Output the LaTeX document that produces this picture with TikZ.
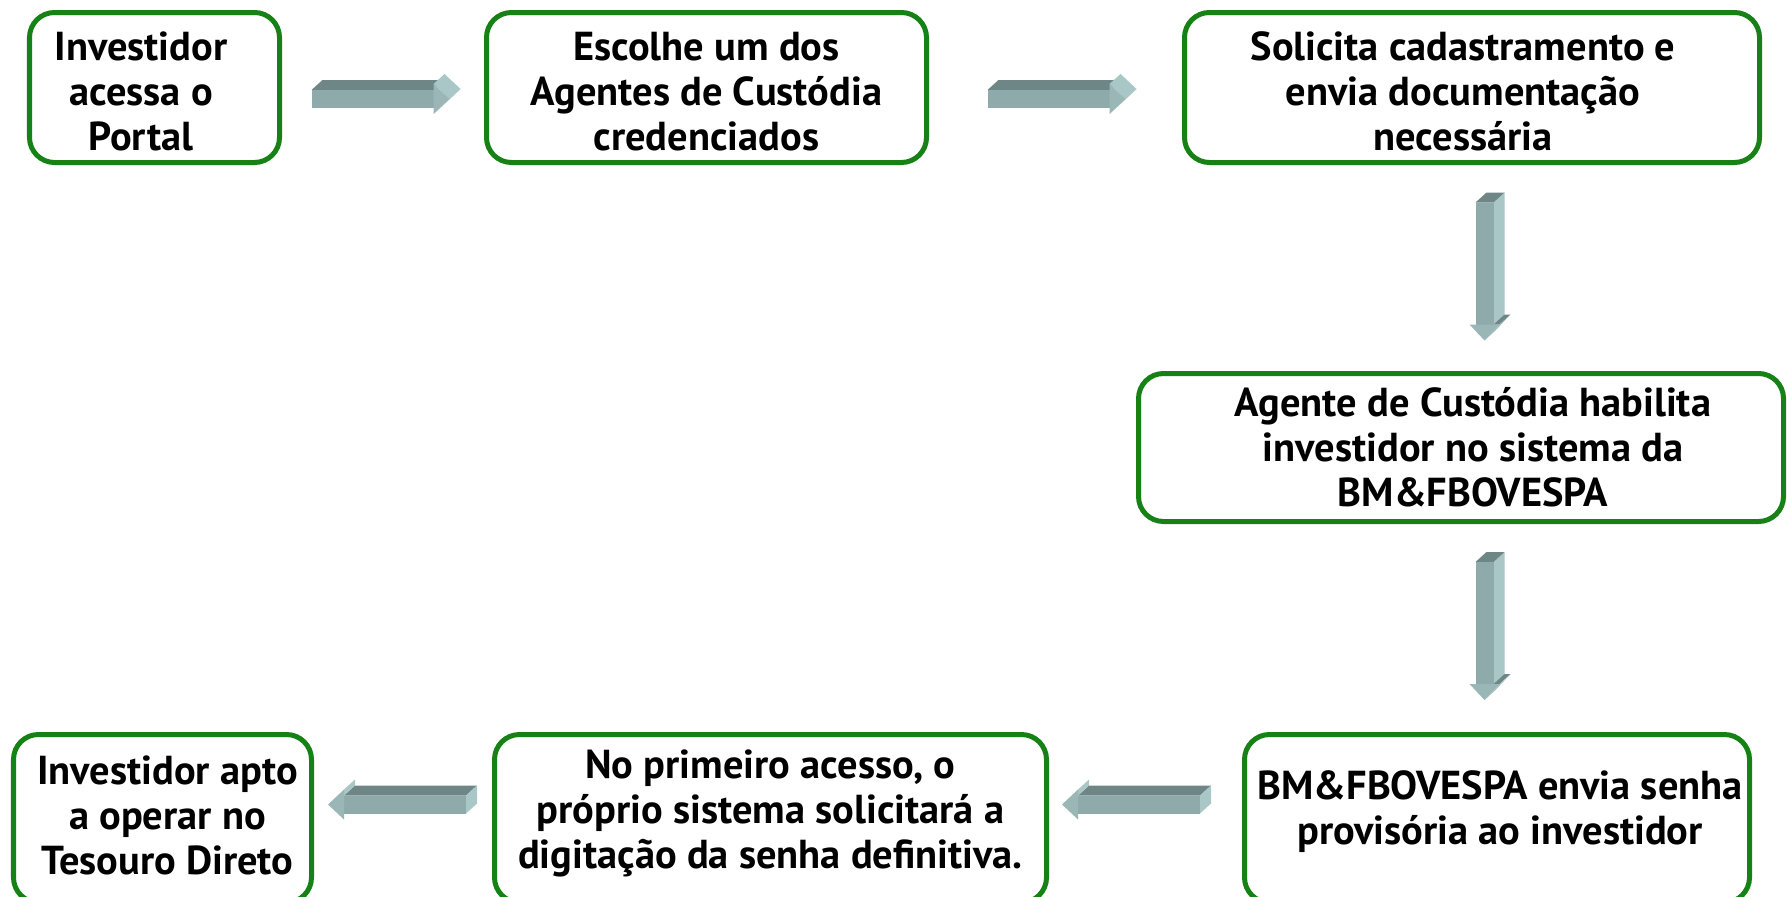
\documentclass[tikz,border=0pt]{standalone}
\usepackage{fontspec}
\setmainfont{PT Sans}
\usetikzlibrary{calc}
\definecolor{verde_caixa}{RGB}{22,130,22}
\definecolor{seta_escura}{HTML}{6E8686}
\definecolor{seta_media}{HTML}{8FAAAB}
\definecolor{seta_clara}{HTML}{A9C7C7}

\tikzset{
  caixa/.style={draw=verde_caixa, line width=0.1cm, rounded corners=0.5cm, fill=white, inner sep=0pt},
  texto/.style={font=\fontsize{23}{25.5}\selectfont\bfseries, align=center, inner sep=0pt},
  % seta 3D para a direita
  setadir/.pic={
    \fill[seta_escura] (-1.38,0.18) -- (1.06,0.18) -- (1.28,0.38) -- (-1.16,0.38) -- cycle;
    \fill[seta_clara] (1.06,0.30) -- (1.38,0) -- (1.60,0.20) -- (1.28,0.50) -- cycle;
    \fill[seta_clara!70!seta_media] (1.38,0) -- (1.06,-0.30) -- (1.28,-0.10) -- (1.60,0.20) -- cycle;
    \fill[seta_media] (-1.38,0.18) -- (1.06,0.18) -- (1.06,-0.18) -- (-1.38,-0.18) -- cycle;
    \fill[seta_media!60!seta_clara] (1.06,0.30) -- (1.38,0) -- (1.06,-0.30) -- cycle;
  },
  % seta 3D para baixo
  setabaixo/.pic={
    \fill[seta_clara] (0.18,1.38) -- (0.18,-1.06) -- (0.40,-0.86) -- (0.40,1.58) -- cycle;
    \fill[seta_escura] (-0.18,1.38) -- (0.18,1.38) -- (0.40,1.58) -- (0.04,1.58) -- cycle;
    \fill[seta_escura] (0.18,-1.06) -- (0.30,-1.06) -- (0.52,-0.86) -- (0.40,-0.86) -- cycle;
    \fill[seta_clara!70!seta_media] (0.30,-1.06) -- (0,-1.38) -- (0.22,-1.18) -- (0.52,-0.86) -- cycle;
    \fill[seta_media] (0.18,1.38) -- (0.18,-1.06) -- (-0.18,-1.06) -- (-0.18,1.38) -- cycle;
    \fill[seta_media!60!seta_clara] (0.30,-1.06) -- (0,-1.38) -- (-0.30,-1.06) -- cycle;
  },
  % seta 3D para a esquerda
  setaesq/.pic={
    \fill[seta_escura] (-1.06,0.18) -- (1.38,0.18) -- (1.60,0.38) -- (-0.84,0.38) -- cycle;
    \fill[seta_clara] (1.38,0.18) -- (1.38,-0.18) -- (1.60,0.02) -- (1.60,0.38) -- cycle;
    \fill[seta_clara] (-1.06,0.18) -- (-1.06,0.30) -- (-0.84,0.50) -- (-0.84,0.38) -- cycle;
    \fill[seta_media] (1.38,0.18) -- (-1.06,0.18) -- (-1.06,-0.18) -- (1.38,-0.18) -- cycle;
    \fill[seta_media!60!seta_clara] (-1.06,0.30) -- (-1.38,0) -- (-1.06,-0.30) -- cycle;
  }
}

\begin{document}
\begin{tikzpicture}

    \useasboundingbox (0,0) rectangle (35.74,-17.92);
    \clip (0,0) rectangle (35.74,-17.92);

    % Caixas do fluxo
    \node[caixa, minimum width=5cm, minimum height=3cm] (portal) at (3.09,-1.75) {};
    \node[caixa, minimum width=8.8cm, minimum height=3cm] (agentes) at (14.13,-1.75) {};
    \node[caixa, minimum width=11.5cm, minimum height=3cm] (solicita) at (29.44,-1.75) {};
    \node[caixa, minimum width=12.9cm, minimum height=2.96cm] (habilita) at (29.22,-8.95) {};
    \node[caixa, minimum width=10.1cm, minimum height=3.36cm] (senha) at (29.94,-16.37) {};
    \node[caixa, minimum width=11.04cm, minimum height=3.36cm] (primeiro) at (15.41,-16.37) {};
    \node[caixa, minimum width=5.96cm, minimum height=3.36cm] (apto) at (3.25,-16.37) {};

    % Textos das caixas
    \node[texto] (portal-t) at ([xshift=-0.27cm,yshift=-0.08cm]portal.center) {Investidor\\acessa o\\Portal};
    \node[texto] (agentes-t) at ([yshift=-0.08cm]agentes.center) {Escolhe um dos\\Agentes de Custódia\\credenciados};
    \node[texto] (solicita-t) at ([xshift=-0.18cm,yshift=-0.08cm]solicita.center) {Solicita cadastramento e\\envia documentação\\necessária};
    \node[texto] (habilita-t) at ([xshift=0.24cm]habilita.center) {Agente de Custódia habilita\\investidor no sistema da\\BM\&FBOVESPA};
    \node[texto] (senha-t) at ([xshift=0.06cm,yshift=0.14cm]senha.center) {BM\&FBOVESPA envia senha\\provisória ao investidor};
    \node[texto] (primeiro-t) at ([yshift=0.1cm]primeiro.center) {No primeiro acesso, o\\próprio sistema solicitará a\\digitação da senha definitiva.};
    \node[texto] (apto-t) at ([xshift=0.1cm,yshift=0.06cm]apto.center) {Investidor apto\\a operar no\\Tesouro Direto};

    % Setas entre as caixas
    \pic at ($(portal.east)!0.5!(agentes.west)+(-0.05,-0.23)$) {setadir};
    \pic at ($(agentes.east)!0.5!(solicita.west)+(0.02,-0.23)$) {setadir};
    \pic at ($(solicita.south)!0.5!(habilita.north)+(0.36,-0.07)$) {setabaixo};
    \pic at ($(habilita.south)!0.5!(senha.north)+(0.11,-0.06)$) {setabaixo};
    \pic at ($(senha.west)!0.5!(primeiro.east)+(-0.29,0.28)$) {setaesq};
    \pic at ($(primeiro.west)!0.5!(apto.east)+(-0.12,0.28)$) {setaesq};
\end{tikzpicture}
\end{document}
